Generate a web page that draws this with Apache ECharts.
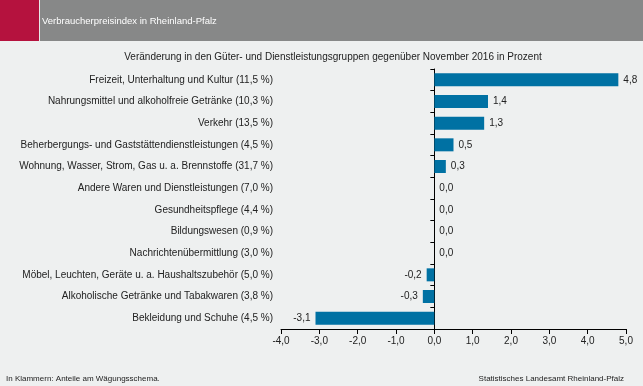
<!DOCTYPE html>
<html><head><meta charset="utf-8">
<script src="https://cdn.jsdelivr.net/npm/echarts@6/dist/echarts.min.js"></script>
<style>html,body{margin:0;padding:0;background:#eef0f0;}#c{width:643px;height:386px;}</style>
</head><body><div id="c"></div>
<script>
const categories = [
  'Freizeit, Unterhaltung und Kultur (11,5 %)',
  'Nahrungsmittel und alkoholfreie Getränke (10,3 %)',
  'Verkehr (13,5 %)',
  'Beherbergungs- und Gaststättendienstleistungen (4,5 %)',
  'Wohnung, Wasser, Strom, Gas u. a. Brennstoffe (31,7 %)',
  'Andere Waren und Dienstleistungen (7,0 %)',
  'Gesundheitspflege (4,4 %)',
  'Bildungswesen (0,9 %)',
  'Nachrichtenübermittlung (3,0 %)',
  'Möbel, Leuchten, Geräte u. a. Haushaltszubehör (5,0 %)',
  'Alkoholische Getränke und Tabakwaren (3,8 %)',
  'Bekleidung und Schuhe (4,5 %)'
];
const values = [4.8, 1.4, 1.3, 0.5, 0.3, 0.0, 0.0, 0.0, 0.0, -0.2, -0.3, -3.1];
const headerTitle = 'Verbraucherpreisindex in Rheinland-Pfalz';
const chartTitle = 'Veränderung in den Güter- und Dienstleistungsgruppen gegenüber November 2016 in Prozent';
const footLeft = 'In Klammern: Anteile am Wägungsschema.';
const footRight = 'Statistisches Landesamt Rheinland-Pfalz';

const fmt = v => v.toFixed(1).replace('.', ',');
const FONT = '"Liberation Sans", Arial, sans-serif';
const chart = echarts.init(document.getElementById('c'));
chart.setOption({
  backgroundColor: '#eef0f0',
  animation: false,
  textStyle: { fontFamily: FONT },
  graphic: [
    { type: 'rect', shape: { x: 0, y: 0, width: 643, height: 41 }, style: { fill: '#878888' } },
    { type: 'rect', shape: { x: 0, y: 0, width: 39, height: 41 }, style: { fill: '#b5123e' } },
    { type: 'rect', shape: { x: 39, y: 0, width: 1, height: 41 }, style: { fill: '#e8e8e8' } },
    { type: 'text', left: 42, top: 16, style: { text: headerTitle, fill: '#ffffff', font: '9.5px ' + FONT } },
    { type: 'text', left: 6, top: 375, style: { text: footLeft, fill: '#222', font: '8px ' + FONT } },
    { type: 'text', right: 19, top: 375, style: { text: footRight, fill: '#222', font: '8px ' + FONT } }
  ],
  title: {
    text: chartTitle, left: 328, top: 47, textAlign: 'center',
    textStyle: { fontSize: 10, fontWeight: 'normal', color: '#222', fontFamily: FONT }
  },
  grid: { left: 281, right: 17, top: 69, bottom: 57, containLabel: false, outerBoundsMode: 'none' },
  xAxis: {
    type: 'value', min: -4, max: 5, interval: 1,
    axisLine: { show: true, lineStyle: { color: '#000' } },
    axisTick: { show: true, length: 5, lineStyle: { color: '#000' } },
    axisLabel: { formatter: v => fmt(v), color: '#222', fontSize: 10, margin: 7 },
    splitLine: { show: false }
  },
  yAxis: {
    type: 'category', data: categories, inverse: true,
    axisLine: { show: true, onZero: true, lineStyle: { color: '#000' } },
    axisTick: { show: true, length: 4, lineStyle: { color: '#000' } },
    axisLabel: { color: '#222', fontSize: 10, margin: 8 }
  },
  series: [{
    type: 'bar', data: values.map(v => ({
      value: v,
      label: { position: v < 0 ? 'left' : 'right' }
    })),
    barWidth: '60%',
    itemStyle: { color: '#0071a3' },
    label: { show: true, distance: 5, color: '#222', fontSize: 10, formatter: p => fmt(p.value) }
  }]
});
</script></body></html>
